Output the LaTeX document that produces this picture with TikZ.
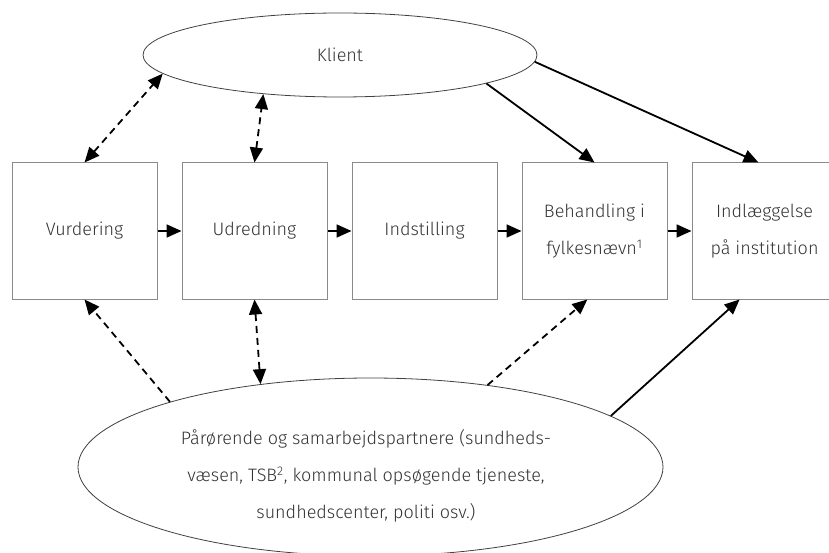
\documentclass[tikz,border=0pt]{standalone}
\usepackage{fontspec}
\setmainfont{Fira Sans Light}
\usetikzlibrary{shapes.geometric,arrows.meta,positioning}
\definecolor{tekstgraa}{HTML}{333333}
\definecolor{kantgraa}{HTML}{8A8A8A}
\begin{document}
\begin{tikzpicture}[x=1pt,y=-1pt,
    every node/.style={font=\fontsize{18}{37}\selectfont, text=tekstgraa},
    boks/.style={draw=kantgraa, line width=1pt, minimum width=145pt, minimum height=136pt, align=center, inner sep=0pt},
    oval/.style={ellipse, draw=black!75, line width=0.8pt, inner sep=0pt},
    pil/.style={line width=1.8pt, -{Triangle[length=15pt,width=13pt]}},
    stiplet/.style={pil, dash pattern=on 7pt off 5pt},
    toveje/.style={stiplet, {Triangle[length=15pt,width=13pt]}-{Triangle[length=15pt,width=13pt]}}]
  \useasboundingbox (0,0) rectangle (829,553);
  \node[boks] (vurd) at (84.5,231) {Vurdering};
  \node[boks, right=24pt of vurd] (udred) {Udredning};
  \node[boks, right=24pt of udred] (indst) {Indstilling};
  \node[boks, right=24pt of indst] (behand) {Behandling i\\fylkesnævn\textsuperscript{1}};
  \node[boks, right=24pt of behand] (indl) {Indlæggelse\\på institution};
  \node[oval, minimum width=394pt, minimum height=84pt] (klient) at (340,55) {Klient};
  \node[oval, minimum width=585pt, minimum height=178pt] (parter) at (370.5,467) {};
  \node[align=center] (partertekst) at (366,476) {Pårørende og samarbejdspartnere (sundheds-\\væsen, TSB\textsuperscript{2}, kommunal opsøgende tjeneste,\\sundhedscenter, politi osv.)};
  \foreach \a/\b in {vurd/udred, udred/indst, indst/behand, behand/indl}
    \draw[pil] (\a) -- (\b);
  \draw[toveje] (vurd.north) -- (klient.186);
  \draw[toveje] (udred.north) -- (klient.207);
  \draw[pil] (klient.349) -- (behand.north);
  \draw[pil] (klient.358) -- (indl.95);
  \draw[stiplet] (parter.162) -- (vurd.south);
  \draw[toveje] (udred.south) -- (parter.143);
  \draw[stiplet] (parter.35) -- (behand.264);
  \draw[pil] (parter.12) -- (indl.250);
\end{tikzpicture}
\end{document}
